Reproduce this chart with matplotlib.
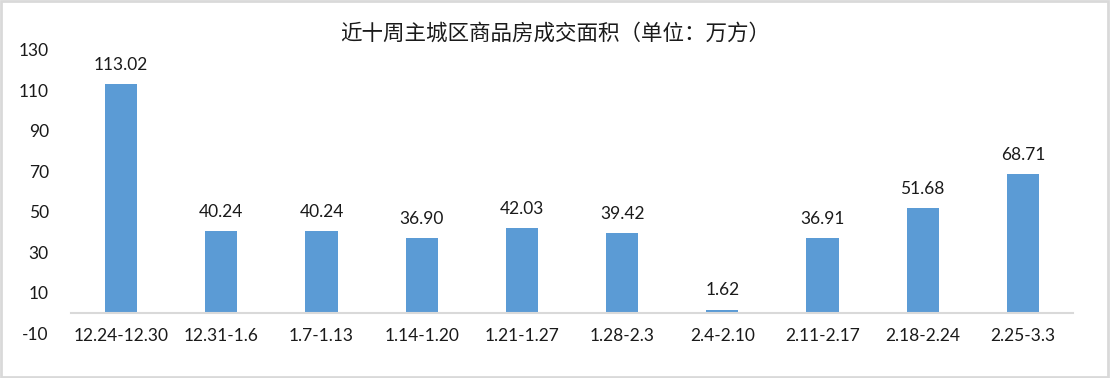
import matplotlib.pyplot as plt
from matplotlib.patches import Rectangle

# 数据
weeks = ["12.24-12.30", "12.31-1.6", "1.7-1.13", "1.14-1.20", "1.21-1.27",
         "1.28-2.3", "2.4-2.10", "2.11-2.17", "2.18-2.24", "2.25-3.3"]
area = [113.02, 40.24, 40.24, 36.90, 42.03, 39.42, 1.62, 36.91, 51.68, 68.71]
y_ticks = [-10, 10, 30, 50, 70, 90, 110, 130]

title = "近十周主城区商品房成交面积（单位：万方）"

fig = plt.figure(figsize=(11.1, 3.78), dpi=100)
ax = fig.add_axes([71/1110, 1 - 333/378, 1002/1110, 283/378])

# 先放好坐标轴位置（set_position 会重置刻度）
for s in ["top", "right", "left"]:
    ax.spines[s].set_visible(False)
ax.spines["bottom"].set_position(("data", 0))
ax.spines["bottom"].set_color("#D9D9D9")
ax.spines["bottom"].set_linewidth(1.5)

x = list(range(len(weeks)))
ax.bar(x, area, width=0.32, color="#5B9BD5", zorder=2)

fs = 12.5
for xi, v in zip(x, area):
    ax.annotate(f"{v:.2f}", (xi, v), xytext=(0, 8), textcoords="offset points",
                ha="center", va="bottom", fontsize=fs, family="Lato", color="#1a1a1a")

ax.set_xlim(-0.5, len(weeks) - 0.5)
ax.set_ylim(-10, 130)
ax.set_yticks(y_ticks)
ax.set_yticklabels([str(t) for t in y_ticks], family="Lato", fontsize=fs, color="#1a1a1a")
ax.set_xticks(x)
ax.set_xticklabels(weeks, family="Lato", fontsize=fs, color="#1a1a1a")
ax.tick_params(axis="x", length=0, pad=11)
ax.tick_params(axis="y", length=0, pad=16)

fig.text(0.5, 1 - 34/378, title, ha="center", va="center", fontsize=15.5,
         family=["Noto Sans CJK SC", "DejaVu Sans"], color="#1a1a1a")

# 外框
fig.patches.append(Rectangle((0.001, 0.002), 0.997, 0.995, transform=fig.transFigure,
                             fill=False, edgecolor="#D9D9D9", linewidth=2))

fig.savefig("out.png", dpi=100)
